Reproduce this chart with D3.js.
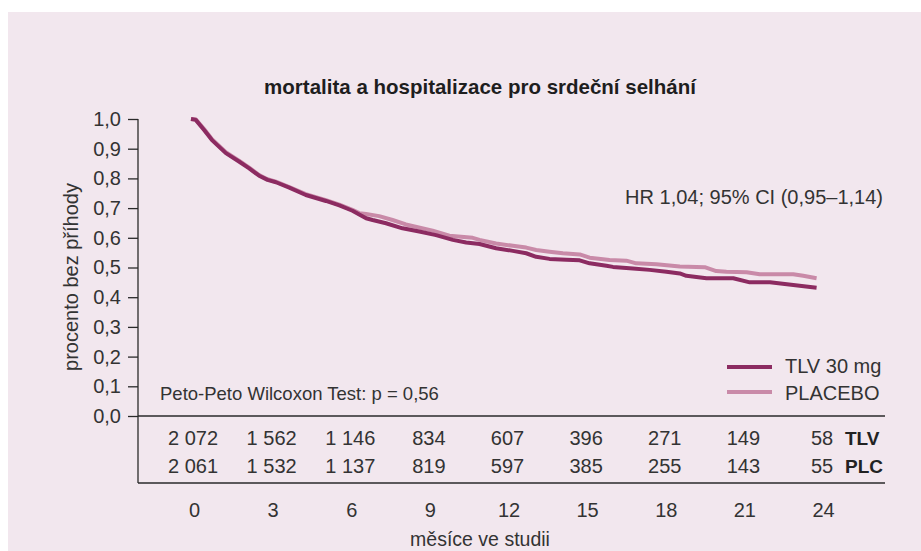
<!DOCTYPE html>
<html><head><meta charset="utf-8">
<script src="https://cdn.jsdelivr.net/npm/d3@7"></script>
<style>
html,body{margin:0;padding:0;background:#fff;}
svg{display:block;font-family:"Liberation Sans",Arial,Helvetica,sans-serif;}
</style></head><body>
<svg id="chart" width="921" height="551"></svg>
<script>
// ---- data ----
const title = "mortalita a hospitalizace pro srdeční selhání";
const yLabel = "procento bez příhody";
const xLabel = "měsíce ve studii";
const hrText = "HR 1,04; 95% CI (0,95–1,14)";
const testText = "Peto-Peto Wilcoxon Test: p = 0,56";
const seriesNames = ["TLV 30 mg", "PLACEBO"];
const riskRowLabels = ["TLV", "PLC"];
const xTicks = [0, 3, 6, 9, 12, 15, 18, 21, 24];
const yTicks = [0, 0.1, 0.2, 0.3, 0.4, 0.5, 0.6, 0.7, 0.8, 0.9, 1.0];
const tlvAtRisk = [2072, 1562, 1146, 834, 607, 396, 271, 149, 58];
const plcAtRisk = [2061, 1532, 1137, 819, 597, 385, 255, 143, 55];

const tlvTime = [0, 0.18, 0.5, 0.8, 1.33, 1.83, 2.22, 2.6, 2.92, 3.24, 3.75, 4.38, 5.15, 5.66, 6.16, 6.68, 6.93, 7.44, 8.07, 8.71, 9.35, 9.99, 10.5, 11.01, 11.64, 12.28, 12.79, 13.17, 13.68, 14.32, 14.83, 15.21, 15.85, 16.1, 16.86, 17.5, 18.14, 18.65, 18.9, 19.67, 20.69, 21.32, 22.09, 22.98, 23.87];
const tlvSurv = [1.0, 0.997, 0.963, 0.929, 0.885, 0.857, 0.834, 0.809, 0.795, 0.787, 0.769, 0.744, 0.724, 0.709, 0.691, 0.666, 0.66, 0.649, 0.632, 0.621, 0.609, 0.593, 0.584, 0.579, 0.565, 0.556, 0.548, 0.536, 0.529, 0.526, 0.524, 0.514, 0.506, 0.502, 0.497, 0.492, 0.486, 0.48, 0.472, 0.464, 0.464, 0.45, 0.45, 0.441, 0.432];
const plcTime = [0, 0.18, 0.5, 0.8, 1.33, 1.83, 2.22, 2.6, 2.92, 3.24, 3.75, 4.38, 5.15, 5.66, 6.16, 6.42, 6.68, 7.18, 7.69, 8.2, 9.22, 9.86, 10.75, 11.01, 11.64, 12.28, 12.79, 13.17, 13.68, 14.19, 14.83, 15.21, 15.97, 16.61, 16.99, 17.76, 18.65, 19.6, 20.04, 20.43, 21.2, 21.7, 22.98, 23.36, 23.87];
const plcSurv = [1.0, 0.999, 0.966, 0.932, 0.888, 0.86, 0.836, 0.811, 0.797, 0.789, 0.771, 0.747, 0.727, 0.712, 0.694, 0.683, 0.68, 0.673, 0.66, 0.645, 0.624, 0.607, 0.6, 0.593, 0.581, 0.573, 0.567, 0.559, 0.553, 0.548, 0.544, 0.533, 0.525, 0.523, 0.514, 0.511, 0.503, 0.501, 0.488, 0.486, 0.484, 0.477, 0.477, 0.472, 0.464];

// ---- styles ----
const colTLV = "#8c2b61";
const colPLC = "#c98aa8";
const bg = "#f2e7ee";
const ink = "#2a2a2a";

const svg = d3.select("#chart");
svg.append("rect").attr("x", 8).attr("y", 12).attr("width", 913).attr("height", 539).attr("fill", bg);

const x = d3.scaleLinear().domain([0, 24]).range([191, 820]);
const y = d3.scaleLinear().domain([0, 1]).range([416, 119]);
const axisX0 = 138, axisRight = 885, tableBottom = 483;

// title
svg.append("text").attr("x", 480).attr("y", 94).attr("text-anchor", "middle")
  .attr("font-size", 20.5).attr("font-weight", "bold").attr("fill", "#1e1e1e").text(title);

// y axis
const yAxis = d3.axisLeft(y).tickValues(yTicks).tickSize(10).tickPadding(7)
  .tickFormat(d => d3.format(".1f")(d).replace(".", ","));
const gy = svg.append("g").attr("transform", `translate(${axisX0},0)`).call(yAxis);
gy.select(".domain").remove();
gy.selectAll(".tick line").attr("stroke", ink).attr("stroke-width", 1.3);
gy.selectAll(".tick text").attr("font-size", 20).attr("fill", "#333").attr("font-family", "Liberation Sans, Arial, sans-serif");

// frame lines
svg.append("line").attr("x1", axisX0).attr("x2", axisX0).attr("y1", y(1)).attr("y2", tableBottom).attr("stroke", ink).attr("stroke-width", 1.3);
svg.append("line").attr("x1", axisX0).attr("x2", axisRight).attr("y1", y(0)).attr("y2", y(0)).attr("stroke", ink).attr("stroke-width", 1.3);
svg.append("line").attr("x1", axisX0).attr("x2", axisRight).attr("y1", tableBottom).attr("y2", tableBottom).attr("stroke", ink).attr("stroke-width", 1.3);

// y label
svg.append("text").attr("transform", "translate(78,277) rotate(-90)").attr("text-anchor", "middle")
  .attr("font-size", 20).attr("fill", "#333").text(yLabel);

// curves
const line = d3.line().x(d => x(d[0])).y(d => y(d[1])).curve(d3.curveLinear);
const plcData = plcTime.map((t, i) => [t, plcSurv[i]]);
const tlvData = tlvTime.map((t, i) => [t, tlvSurv[i]]);
svg.append("path").datum(plcData).attr("d", line).attr("fill", "none").attr("stroke", colPLC).attr("stroke-width", 4).attr("stroke-linejoin", "round");
svg.append("path").datum(tlvData).attr("d", line).attr("fill", "none").attr("stroke", colTLV).attr("stroke-width", 4).attr("stroke-linejoin", "round");

// annotations
svg.append("text").attr("x", 883).attr("y", 204).attr("text-anchor", "end").attr("font-size", 20).attr("fill", "#333").text(hrText);
svg.append("text").attr("x", 160).attr("y", 400).attr("font-size", 18.5).attr("fill", "#333").text(testText);

// legend
const legend = svg.append("g");
[[colTLV, 367, 373], [colPLC, 392, 400]].forEach((c, i) => {
  legend.append("line").attr("x1", 727).attr("x2", 772).attr("y1", c[1]).attr("y2", c[1]).attr("stroke", c[0]).attr("stroke-width", 4);
  legend.append("text").attr("x", 785).attr("y", c[2]).attr("font-size", 20).attr("fill", "#333").text(seriesNames[i]);
});

// risk table
const fmt = d3.formatLocale({decimal: ",", thousands: " ", grouping: [3], currency: ["", ""]}).format(",d");
const rows = [[tlvAtRisk, 445], [plcAtRisk, 473]];
rows.forEach((r, ri) => {
  svg.append("g").selectAll("text").data(r[0]).join("text")
    .attr("x", (d, i) => x(xTicks[i]) + 2).attr("y", r[1]).attr("text-anchor", "middle")
    .attr("font-size", 20).attr("fill", "#333").text(d => fmt(d));
  svg.append("text").attr("x", 845).attr("y", r[1]).attr("font-size", 19).attr("font-weight", "bold")
    .attr("fill", "#222").text(riskRowLabels[ri]);
});

// x axis labels
const xAxis = d3.axisBottom(x).tickValues(xTicks).tickSize(0).tickPadding(0).tickFormat(d3.format("d"));
const gx = svg.append("g").attr("transform", "translate(3,503)").call(xAxis);
gx.select(".domain").remove();
gx.selectAll(".tick text").attr("font-size", 20).attr("fill", "#333").attr("font-family", "Liberation Sans, Arial, sans-serif");

svg.append("text").attr("x", 480).attr("y", 546).attr("text-anchor", "middle").attr("font-size", 19.5).attr("fill", "#333").text(xLabel);
</script>
</body></html>
